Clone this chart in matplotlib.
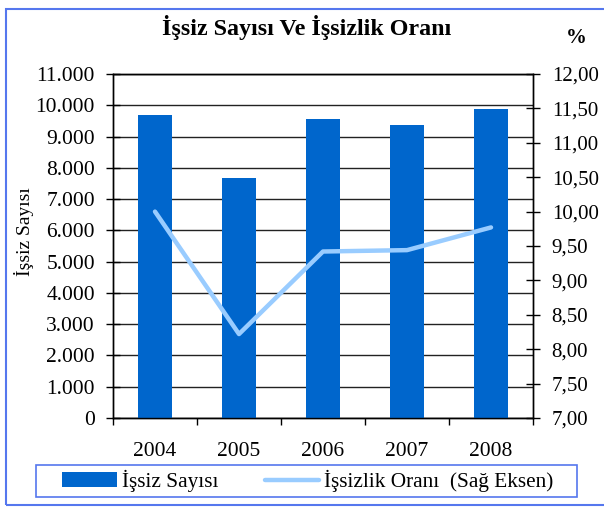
import matplotlib
matplotlib.use("Agg")
import matplotlib.pyplot as plt
from matplotlib.patches import Rectangle
from matplotlib.ticker import FuncFormatter, MultipleLocator, FixedLocator
import numpy as np

years = ["2004", "2005", "2006", "2007", "2008"]
issiz_sayisi = [9680, 7670, 9555, 9360, 9870]
issizlik_orani = [10.00, 8.22, 9.42, 9.44, 9.77]

title = "İşsiz Sayısı Ve İşsizlik Oranı"
ylabel = "İşsiz Sayısı"
bar_label = "İşsiz Sayısı"
line_label = "İşsizlik Oranı  (Sağ Eksen)"

plt.rcParams['font.family'] = ['Liberation Serif', 'DejaVu Serif']

W, H = 604, 507
fig = plt.figure(figsize=(W/100, H/100), dpi=100)
ax = fig.add_axes([113/W, 1-418/H, (533-113)/W, (418-74)/H])
ax2 = ax.twinx()

x = np.arange(len(years))
bars = ax.bar(x, issiz_sayisi, width=0.4, color="#0066CC", zorder=3, label=bar_label)
line, = ax2.plot(x, issizlik_orani, color="#99CCFF", lw=3.2, solid_capstyle="round",
                 solid_joinstyle="round", zorder=4, label=line_label)

ax.set_xlim(-0.5, len(years) - 0.5)
ax.set_ylim(0, 11000)
ax.yaxis.set_major_locator(MultipleLocator(1000))
ax.yaxis.set_major_formatter(FuncFormatter(lambda v, p: f"{int(v):,}".replace(",", ".")))
ax.grid(axis="y", color="#222222", lw=1.0, zorder=1)
ax.set_axisbelow(True)

ax2.set_ylim(7, 12)
ax2.yaxis.set_major_locator(MultipleLocator(0.5))
ax2.yaxis.set_major_formatter(FuncFormatter(lambda v, p: f"{v:.2f}".replace(".", ",")))

ax.set_xticks(x)
ax.set_xticklabels(years)
ax.xaxis.set_minor_locator(FixedLocator(np.arange(-0.5, len(years), 1.0)))
ax.tick_params(axis="x", which="major", length=0, pad=17, labelsize=15.5)
ax.tick_params(axis="x", which="minor", length=5, width=1, direction="out")
ax.tick_params(axis="y", length=10, width=1, direction="inout", pad=8, labelsize=15.5)
ax2.tick_params(axis="y", length=10, width=1, direction="inout", pad=8.5, labelsize=15)

for a in (ax, ax2):
    for s in a.spines.values():
        s.set_color("black")
        s.set_linewidth(1.0)

fig.text(24/W, 1-232/H, ylabel, rotation=90, ha="center", va="center", fontsize=14)

fig.text(307/W, 1-28/H, title, ha="center", va="center", fontsize=17.3, fontweight="bold")
fig.text(576/W, 1-38/H, "%", ha="center", va="center", fontsize=15, fontweight="bold")

leg = fig.legend(handles=[bars, line], labels=[bar_label, line_label],
                 loc="center", bbox_to_anchor=(308/W, 1-481/H), ncol=2,
                 fontsize=15.3, frameon=False,
                 handlelength=2.55, handleheight=0.72, handletextpad=0.24,
                 columnspacing=2.2, borderpad=0, borderaxespad=0)

fig.patches.append(Rectangle((36/W, 1-497/H), (577-36)/W, (497-465)/H, transform=fig.transFigure,
                             fill=False, edgecolor="#5577EE", lw=1.2))
fig.patches.append(Rectangle((6/W, 1-505/H), (620-6)/W, (505-9)/H, transform=fig.transFigure,
                             fill=False, edgecolor="#5577EE", lw=1.5))

fig.savefig("out.png", dpi=100)
